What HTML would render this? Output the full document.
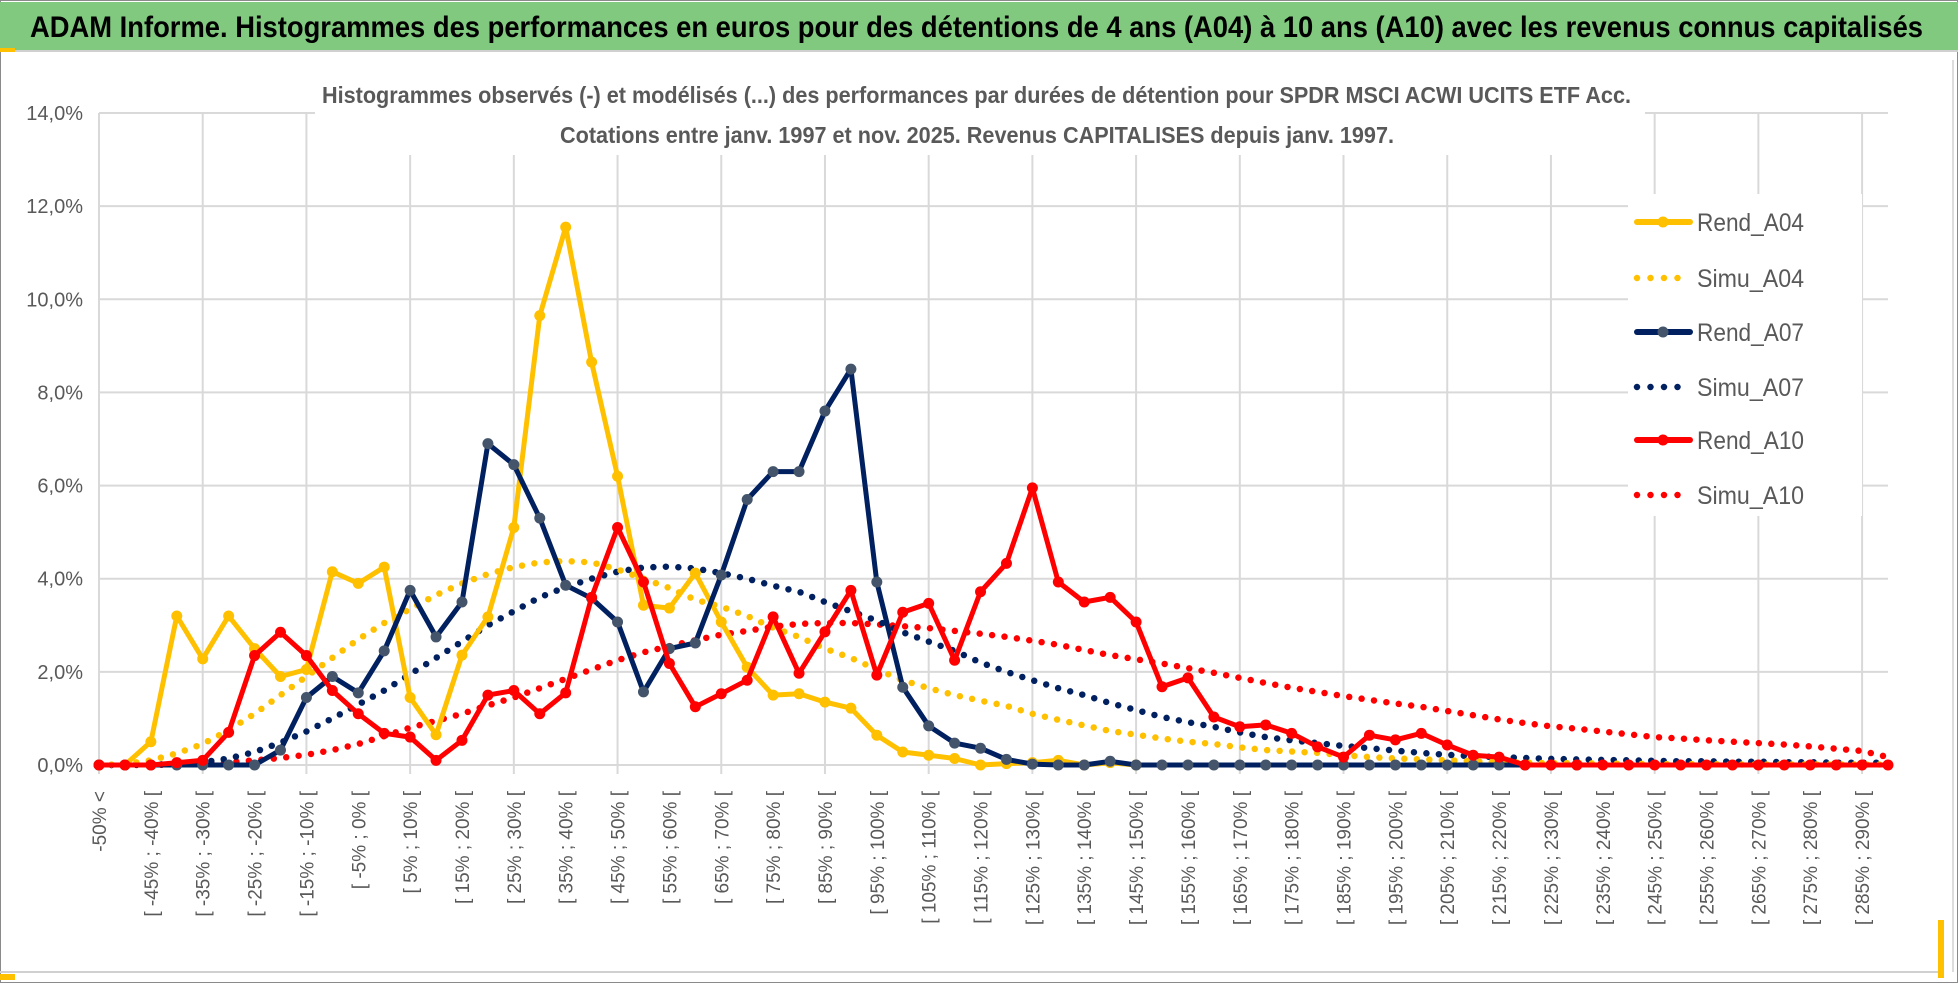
<!DOCTYPE html>
<html><head><meta charset="utf-8"><style>
html,body{margin:0;padding:0;background:#fff;}
svg{display:block;}
</style></head><body>
<svg id="chart" xmlns="http://www.w3.org/2000/svg" width="1958" height="983" viewBox="0 0 1958 983" font-family="'Liberation Sans', sans-serif">
<rect x="0" y="0" width="1958" height="983" fill="#fff"/>
<rect x="0.5" y="0.5" width="1957" height="982" fill="none" stroke="#8a8a8a" stroke-width="1"/>
<rect x="0" y="2" width="1958" height="48" fill="#80C97F"/>
<rect x="0" y="48" width="15" height="4" fill="#FFC000"/>
<line x1="15" y1="51" x2="1958" y2="51" stroke="#d0d0d0" stroke-width="2"/>
<text x="30" y="37" font-size="30" font-weight="bold" fill="#000" textLength="1893" lengthAdjust="spacingAndGlyphs">ADAM Informe. Histogrammes des performances en euros pour des détentions de 4 ans (A04) à 10 ans (A10) avec les revenus connus capitalisés</text>
<g id="grid"></g>
<rect x="315" y="56" width="1330" height="99" fill="#fff"/>
<text x="322" y="103" font-size="23" font-weight="bold" fill="#595959" textLength="1309" lengthAdjust="spacingAndGlyphs">Histogrammes observés (-) et modélisés (...) des performances par durées de détention pour SPDR MSCI ACWI UCITS ETF Acc.</text>
<text x="560" y="143" font-size="23" font-weight="bold" fill="#595959" textLength="834" lengthAdjust="spacingAndGlyphs">Cotations entre janv. 1997 et nov. 2025. Revenus CAPITALISES depuis janv. 1997.</text>
<g id="yaxis"></g>
<g id="xaxis"></g>
<g id="series"></g>
<g id="legend"></g>
<line x1="0" y1="972" x2="1940" y2="972" stroke="#d0d0d0" stroke-width="2"/>
<rect x="0" y="974" width="15" height="6" fill="#FFC000"/>
<rect x="1938" y="920" width="6" height="58" fill="#FFC000"/>
<line x1="1953" y1="60" x2="1953" y2="972" stroke="#bbb" stroke-width="1"/>
</svg>
<script>
const yTicks = [0, 2, 4, 6, 8, 10, 12, 14];
const binStarts = [];
for (let s = -50; s <= 290; s += 5) binStarts.push(s);
const rendA04 = [0,0,0.5,3.2,2.28,3.2,2.5,1.9,2.05,4.15,3.9,4.25,1.45,0.65,2.36,3.18,5.1,9.65,11.55,8.65,6.2,3.43,3.37,4.12,3.07,2.1,1.5,1.53,1.35,1.22,0.64,0.28,0.21,0.14,0,0.03,0.05,0.1,0,0.05,0];
const simuA04 = [0,0.02,0.1,0.25,0.45,0.75,1.1,1.5,1.9,2.3,2.7,3.05,3.35,3.65,3.9,4.1,4.25,4.35,4.38,4.35,4.2,4.0,3.8,3.55,3.4,3.2,2.95,2.75,2.5,2.3,2.05,1.82,1.65,1.5,1.38,1.27,1.1,0.97,0.85,0.73,0.65,0.57,0.5,0.45,0.38,0.32,0.29,0.26,0.21,0.17,0.14,0.12,0.1,0.08,0.06,0.05,0.04,0.04,0.03,0.03,0.02,0.02,0.02,0.01,0.01,0.01,0.01,0.01,0.01,0.01];
const rendA07 = [0,0,0,0,0,0,0,0.32,1.45,1.9,1.55,2.45,3.75,2.75,3.5,6.9,6.45,5.3,3.86,3.58,3.07,1.57,2.5,2.62,4.08,5.7,6.3,6.3,7.6,8.5,3.93,1.67,0.84,0.47,0.36,0.12,0.02,0,0,0.08,0,0,0,0,0,0,0,0,0,0,0,0,0,0,0,0,0,0];
const simuA07 = [0,0,0.01,0.02,0.06,0.14,0.28,0.48,0.72,1.0,1.3,1.6,1.95,2.3,2.65,3.0,3.3,3.6,3.82,4.0,4.15,4.24,4.26,4.22,4.12,4.0,3.85,3.72,3.5,3.3,3.1,2.85,2.65,2.45,2.2,2.0,1.82,1.65,1.5,1.33,1.18,1.03,0.92,0.82,0.7,0.6,0.53,0.47,0.41,0.36,0.31,0.26,0.22,0.19,0.17,0.15,0.13,0.12,0.11,0.1,0.09,0.08,0.08,0.07,0.07,0.06,0.06,0.05,0.05,0.05];
const rendA10 = [0,0,0,0.05,0.1,0.7,2.35,2.85,2.35,1.6,1.1,0.68,0.6,0.1,0.53,1.5,1.6,1.1,1.55,3.6,5.1,3.93,2.18,1.25,1.53,1.82,3.18,1.97,2.86,3.75,1.93,3.28,3.47,2.25,3.72,4.33,5.95,3.93,3.5,3.6,3.07,1.68,1.87,1.03,0.82,0.86,0.68,0.39,0.17,0.64,0.54,0.68,0.43,0.21,0.17,0,0,0,0,0,0,0,0,0,0,0,0,0,0,0];
const simuA10 = [0,0,0,0.01,0.03,0.06,0.1,0.15,0.22,0.32,0.45,0.62,0.8,0.95,1.1,1.28,1.45,1.65,1.85,2.05,2.25,2.42,2.55,2.68,2.8,2.88,2.97,3.03,3.05,3.05,3.02,2.98,2.94,2.88,2.82,2.75,2.67,2.58,2.47,2.36,2.27,2.18,2.08,1.98,1.87,1.76,1.66,1.57,1.48,1.4,1.32,1.25,1.16,1.07,0.98,0.9,0.83,0.78,0.72,0.66,0.6,0.57,0.53,0.5,0.47,0.44,0.4,0.35,0.3,0.17];
const seriesNames = ["Rend_A04","Simu_A04","Rend_A07","Simu_A07","Rend_A10","Simu_A10"];

const NS = "http://www.w3.org/2000/svg";
const X0 = 99, X1 = 1888, Y0 = 765, YTOP = 113;
const nCat = binStarts.length + 1;
function xPos(i){ return X0 + (X1 - X0) * i / (nCat - 1); }
function yPos(v){ return Y0 - (Y0 - YTOP) * v / 14; }
function mk(tag, attrs, parent){ const e = document.createElementNS(NS, tag); for (const k in attrs) e.setAttribute(k, attrs[k]); parent.appendChild(e); return e; }
function label(i){
  if (i === 0) return "-50% <";
  const lo = binStarts[i-1];
  return "[ " + lo + "% ; " + (lo + 5) + "% [";
}

const grid = document.getElementById("grid");
yTicks.forEach(t => {
  const l = mk("line", {x1: X0, x2: X1, y1: yPos(t), y2: yPos(t), stroke: "#d9d9d9", "stroke-width": 2}, grid);
  
  
});
for (let i = 0; i < nCat; i += 4) {
  const l = mk("line", {x1: xPos(i), x2: xPos(i), y1: YTOP, y2: Y0 + 9, stroke: "#d9d9d9", "stroke-width": 2}, grid);
  
  
}

const yaxis = document.getElementById("yaxis");
yTicks.forEach(t => {
  const tx = mk("text", {x: 83, y: yPos(t) + 7, "font-size": 20, fill: "#595959", "text-anchor": "end"}, yaxis);
  tx.textContent = t.toFixed(1).replace(".", ",") + "%";
  
  
});

const xaxis = document.getElementById("xaxis");
for (let i = 0; i < nCat; i += 2) {
  const x = xPos(i) + 7, y = 791;
  const tx = mk("text", {x: x, y: y, "font-size": 19, fill: "#595959", "text-anchor": "end", transform: "rotate(-90 " + x + " " + y + ")"}, xaxis);
  tx.textContent = label(i);
  
  
}

const series = document.getElementById("series");
function pts(arr){ return arr.map((v,i) => xPos(i).toFixed(1) + "," + yPos(v).toFixed(1)).join(" "); }
function dotted(arr, color, name){
  const p = mk("polyline", {points: pts(arr), fill: "none", stroke: color, "stroke-width": 6.5, "stroke-linecap": "round", "stroke-dasharray": "0 12.5"}, series);
  
  
}
function solid(arr, color, mcolor, name){
  const g = mk("g", {}, series);
  
  
  mk("polyline", {points: pts(arr), fill: "none", stroke: color, "stroke-width": 5, "stroke-linejoin": "round"}, g);
  arr.forEach((v,i) => {
    const c = mk("circle", {cx: xPos(i), cy: yPos(v), r: 5.5, fill: mcolor}, g);
    
    
  });
}
dotted(simuA10, "#FF0000", "simu-a10-line");
dotted(simuA07, "#002060", "simu-a07-line");
dotted(simuA04, "#FFC000", "simu-a04-line");
solid(rendA04, "#FFC000", "#FFC000", "rend-a04-line");
solid(rendA07, "#002060", "#44546A", "rend-a07-line");
solid(rendA10, "#FF0000", "#FF0000", "rend-a10-line");

const legend = document.getElementById("legend");
const lb = mk("rect", {x: 1628, y: 194, width: 234, height: 322, fill: "#fff"}, legend);


const legColors = ["#FFC000","#FFC000","#002060","#002060","#FF0000","#FF0000"];
const legMarker = ["#FFC000",null,"#44546A",null,"#FF0000",null];
const legY = [222, 278, 332, 387, 440, 495];
seriesNames.forEach((n, k) => {
  const g = mk("g", {}, legend);
  
  
  const y = legY[k];
  if (legMarker[k]) {
    mk("line", {x1: 1637, x2: 1690, y1: y, y2: y, stroke: legColors[k], "stroke-width": 6, "stroke-linecap": "round"}, g);
    mk("circle", {cx: 1663, cy: y, r: 5.5, fill: legMarker[k]}, g);
  } else {
    mk("line", {x1: 1637, x2: 1690, y1: y, y2: y, stroke: legColors[k], "stroke-width": 6.5, "stroke-linecap": "round", "stroke-dasharray": "0 13.5"}, g);
  }
  const t = mk("text", {x: 1697, y: y + 9, "font-size": 25, fill: "#595959", textLength: 107, lengthAdjust: "spacingAndGlyphs"}, g);
  t.textContent = n;
});
</script>
</body></html>
